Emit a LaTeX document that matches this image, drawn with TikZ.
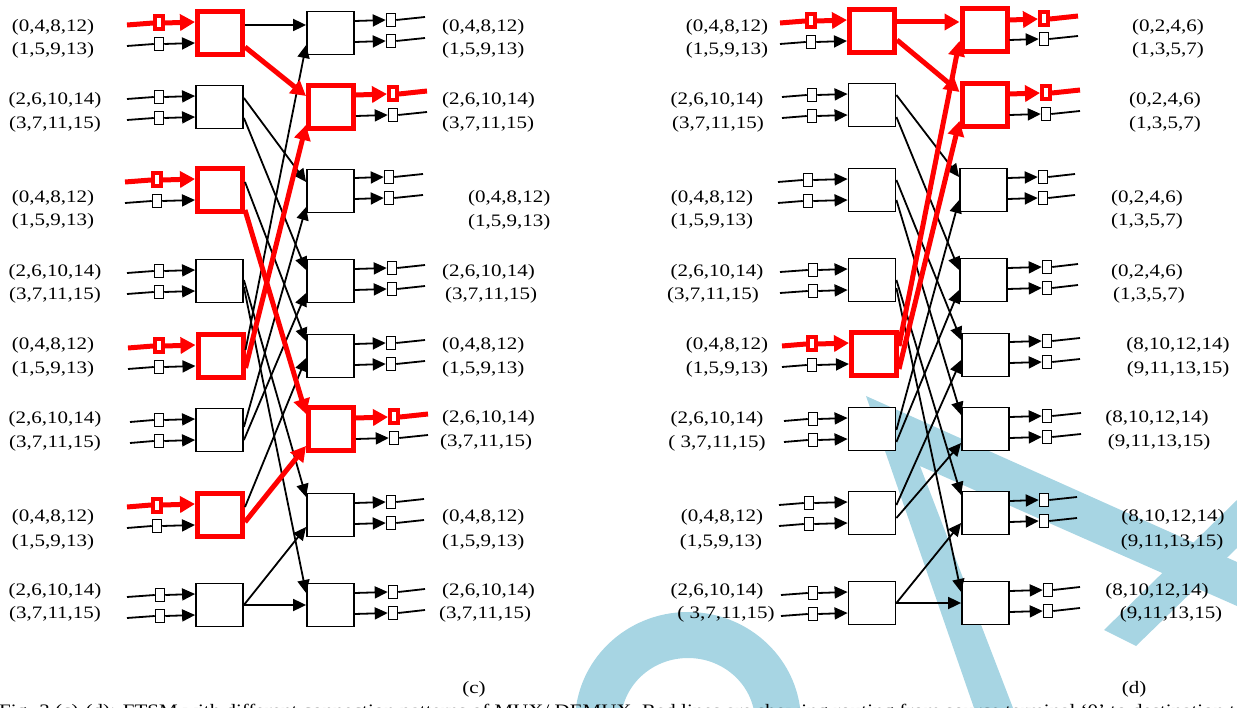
\documentclass[tikz,border=0pt]{standalone}
\usepackage{fontspec}
\setmainfont{Liberation Serif}[FakeStretch=1.2]
\usetikzlibrary{arrows.meta,calc}
\definecolor{wmblue}{RGB}{167,213,227}
\definecolor{pathred}{RGB}{255,0,0}
% black input: name, y, x-start, x-rect, box
\newcommand\inB[5]{%
  \coordinate (#1s) at (#3,#2+2);
  \node[sq] (#1q) at (#4,#2) {};
  \draw[wire] (#1s) -- (#1q.west);
  \draw[arr] (#1q.east) -- (#5.west |- 0,#2-1);}
\newcommand\inR[5]{%
  \coordinate (#1s) at (#3,#2+2);
  \node[rsq] (#1q) at (#4,#2) {};
  \draw[rwire] (#1s) -- (#1q.west);
  \draw[rarr] (#1q.east) -- (#5.west |- 0,#2-1);}
% output: name, y, x-rect, x-end, box
\newcommand\outB[5]{%
  \node[sq] (#1q) at (#3,#2-1) {};
  \draw[arr] (#5.east |- 0,#2) -- (#1q.west);
  \coordinate (#1e) at (#4,#2-4);
  \draw[wire] (#1q.east) -- (#1e);}
\newcommand\outR[5]{%
  \node[rsq] (#1q) at (#3,#2-1) {};
  \draw[rarr] (#5.east |- 0,#2) -- (#1q.west);
  \coordinate (#1e) at (#4,#2-4);
  \draw[rwire] (#1q.east) -- (#1e);}
\newcommand\lnk[5]{\draw[#1] ($(#2.east)+(0,#3)$) -- ($(#4.west)+(0,#5)$);}
\begin{document}
\begin{tikzpicture}[x=1pt,y=-1pt,
  box/.style={draw=black,fill=white,line width=1.8pt,minimum width=47pt,minimum height=43pt,inner sep=0pt},
  rbox/.style={draw=pathred,fill=white,line width=5pt,minimum width=45pt,minimum height=43pt,inner sep=0pt},
  sq/.style={draw=black,fill=white,line width=1.5pt,minimum width=9pt,minimum height=13pt,inner sep=0pt},
  rsq/.style={draw=pathred,fill=white,line width=4pt,minimum width=8pt,minimum height=13pt,inner sep=0pt},
  wire/.style={draw=black,line width=1.8pt},
  rwire/.style={draw=pathred,line width=5pt},
  arr/.style={draw=black,line width=1.8pt,-{Triangle[length=13pt,width=12pt]}},
  rarr/.style={draw=pathred,line width=5pt,-{Triangle[length=15pt,width=16pt]}},
  lab/.style={inner sep=0pt,text height=12.1pt,text depth=3.1pt,font=\fontsize{17.5pt}{20pt}\selectfont},
]
\useasboundingbox (0,0) rectangle (1237,708);
\clip (0,0) rectangle (1237,708);
% ---------- watermark ----------
\fill[wmblue] (866,396) -- (1237,562) -- (1237,606) -- (920,466) -- (1013,708) -- (974,708) -- cycle;
\fill[wmblue] (1237,500) -- (1237,548) -- (1136,646) -- (1104,630) -- cycle;
\draw[wmblue,line width=46pt] (598,722) arc[start angle=180,end angle=360,x radius=90,y radius=87];
% ---------- panel (c) boxes ----------
\node[rbox] (cA1) at (220,33) {};
\node[box]  (cA2) at (219.5,107) {};
\node[rbox] (cA3) at (220,190) {};
\node[box]  (cA4) at (219.5,281) {};
\node[rbox] (cA5) at (220.5,356) {};
\node[box]  (cA6) at (219.5,430) {};
\node[rbox] (cA7) at (220,515) {};
\node[box]  (cA8) at (219.5,605) {};
\node[box]  (cB1) at (330.5,33) {};
\node[rbox] (cB2) at (331,107) {};
\node[box]  (cB3) at (330.5,191) {};
\node[box]  (cB4) at (330.5,281) {};
\node[box]  (cB5) at (330.5,356) {};
\node[rbox] (cB6) at (331,429) {};
\node[box]  (cB7) at (330.5,515) {};
\node[box]  (cB8) at (330.5,605) {};
% ---------- panel (d) boxes ----------
\node[rbox] (dC1) at (872,31) {};
\node[box]  (dC2) at (872,105) {};
\node[box]  (dC3) at (872,190) {};
\node[box]  (dC4) at (872,280) {};
\node[rbox] (dC5) at (874,354) {};
\node[box]  (dC6) at (872,429) {};
\node[box]  (dC7) at (872,513) {};
\node[box]  (dC8) at (872,603) {};
\node[rbox] (dD1) at (984.5,30) {};
\node[rbox] (dD2) at (984.5,105) {};
\node[box]  (dD3) at (983.5,190) {};
\node[box]  (dD4) at (983.5,280) {};
\node[box]  (dD5) at (985.5,355) {};
\node[box]  (dD6) at (985.5,429) {};
\node[box]  (dD7) at (985.5,513) {};
\node[box]  (dD8) at (985.5,603) {};
% ---------- panel (c) links ----------
\lnk{arr}{cA1}{-8}{cB1}{-8}
\lnk{arr}{cA2}{-9}{cB3}{-9}
\lnk{arr}{cA2}{11}{cB4}{-11}
\lnk{arr}{cA3}{-8}{cB5}{-15}
\lnk{arr}{cA4}{-1}{cB7}{-18}
\lnk{arr}{cA4}{6}{cB8}{-12}
\lnk{arr}{cA5}{-6}{cB1}{12}
\lnk{arr}{cA6}{-3}{cB3}{16}
\lnk{arr}{cA6}{10}{cB4}{12}
\lnk{arr}{cA7}{-8}{cB5}{2}
\lnk{arr}{cA8}{0}{cB7}{12}
\lnk{arr}{cA8}{0}{cB8}{0}
\lnk{rarr}{cA1}{14}{cB2}{-11}
\lnk{rarr}{cA5}{12}{cB2}{18}
\lnk{rarr}{cA3}{20}{cB6}{-15}
\lnk{rarr}{cA7}{7}{cB6}{17}
% ---------- panel (d) links ----------
\lnk{arr}{dC2}{-10}{dD3}{-13}
\lnk{arr}{dC2}{12}{dD4}{-10}
\lnk{arr}{dC3}{-10}{dD5}{-15}
\lnk{arr}{dC3}{10}{dD6}{-14}
\lnk{arr}{dC4}{0}{dD7}{-18}
\lnk{arr}{dC4}{8}{dD8}{-11}
\lnk{arr}{dC6}{1}{dD3}{10}
\lnk{arr}{dC6}{13}{dD4}{10}
\lnk{arr}{dC7}{-8}{dD5}{5}
\lnk{arr}{dC7}{5}{dD6}{14}
\lnk{arr}{dC8}{0}{dD7}{10}
\lnk{arr}{dC8}{0}{dD8}{0}
\lnk{rarr}{dC1}{-9}{dD1}{-8}
\lnk{rarr}{dC1}{9}{dD2}{-13}
\lnk{rarr}{dC5}{-8}{dD1}{11}
\lnk{rarr}{dC5}{15}{dD2}{16}
% ---------- panel (c) inputs ----------
\inR{ci1a}{23}{127}{159}{cA1}  \inB{ci1b}{44}{127}{159}{cA1}
\inB{ci2a}{97}{127}{159}{cA2}  \inB{ci2b}{118}{127}{159}{cA2}
\inR{ci3a}{180}{125}{157}{cA3} \inB{ci3b}{201}{125}{157}{cA3}
\inB{ci4a}{271}{127}{159}{cA4} \inB{ci4b}{292}{127}{159}{cA4}
\inR{ci5a}{346}{128}{159}{cA5} \inB{ci5b}{367}{128}{159}{cA5}
\inB{ci6a}{420}{130}{159}{cA6} \inB{ci6b}{441}{130}{159}{cA6}
\inR{ci7a}{505}{127}{157}{cA7} \inB{ci7b}{526}{127}{157}{cA7}
\inB{ci8a}{595}{127}{160}{cA8} \inB{ci8b}{616}{127}{160}{cA8}
% ---------- panel (c) outputs ----------
\outB{co1a}{21}{391}{425}{cB1}  \outB{co1b}{42}{391}{425}{cB1}
\outR{co2a}{95}{393}{427}{cB2}  \outB{co2b}{116}{393}{427}{cB2}
\outB{co3a}{178}{389}{423}{cB3} \outB{co3b}{199}{389}{423}{cB3}
\outB{co4a}{269}{392}{425}{cB4} \outB{co4b}{290}{392}{425}{cB4}
\outB{co5a}{344}{391}{425}{cB5} \outB{co5b}{365}{391}{425}{cB5}
\outR{co6a}{418}{394}{428}{cB6} \outB{co6b}{439}{394}{428}{cB6}
\outB{co7a}{503}{391}{424}{cB7} \outB{co7b}{524}{391}{424}{cB7}
\outB{co8a}{593}{393}{425}{cB8} \outB{co8b}{614}{393}{425}{cB8}
% ---------- panel (d) inputs ----------
\inR{di1a}{21}{780}{811}{dC1}  \inB{di1b}{42}{780}{811}{dC1}
\inB{di2a}{95}{782}{812}{dC2}  \inB{di2b}{116}{782}{812}{dC2}
\inB{di3a}{180}{778}{808}{dC3} \inB{di3b}{201}{778}{808}{dC3}
\inB{di4a}{270}{780}{813}{dC4} \inB{di4b}{291}{780}{813}{dC4}
\inR{di5a}{344}{782}{812}{dC5} \inB{di5b}{365}{782}{812}{dC5}
\inB{di6a}{419}{784}{813}{dC6} \inB{di6b}{440}{784}{813}{dC6}
\inB{di7a}{503}{779}{809}{dC7} \inB{di7b}{524}{779}{809}{dC7}
\inB{di8a}{593}{781}{813}{dC8} \inB{di8b}{614}{781}{813}{dC8}
% ---------- panel (d) outputs ----------
\outR{do1a}{20}{1044}{1078}{dD1}  \outB{do1b}{40}{1044}{1078}{dD1}
\outR{do2a}{94}{1046}{1080}{dD2}  \outB{do2b}{115}{1046}{1080}{dD2}
\outB{do3a}{178}{1043}{1075}{dD3} \outB{do3b}{199}{1043}{1075}{dD3}
\outB{do4a}{268}{1047}{1078}{dD4} \outB{do4b}{289}{1047}{1078}{dD4}
\outB{do5a}{342}{1047}{1080}{dD5} \outB{do5b}{363}{1047}{1080}{dD5}
\outB{do6a}{417}{1047}{1081}{dD6} \outB{do6b}{438}{1047}{1081}{dD6}
\outB{do7a}{501}{1044}{1077}{dD7} \outB{do7b}{522}{1044}{1077}{dD7}
\outB{do8a}{591}{1048}{1080}{dD8} \outB{do8b}{612}{1048}{1080}{dD8}
% ---------- panel (c) labels ----------
\node[lab] (cl1a) at (53,27) {(0,4,8,12)};   \node[lab] (cl1b) at (53,50) {(1,5,9,13)};
\node[lab] (cl2a) at (55,100) {(2,6,10,14)}; \node[lab] (cl2b) at (55,124) {(3,7,11,15)};
\node[lab] (cl3a) at (53,198) {(0,4,8,12)};  \node[lab] (cl3b) at (53,221) {(1,5,9,13)};
\node[lab] (cl4a) at (55,272) {(2,6,10,14)}; \node[lab] (cl4b) at (55,295) {(3,7,11,15)};
\node[lab] (cl5a) at (53,345) {(0,4,8,12)};  \node[lab] (cl5b) at (53,369) {(1,5,9,13)};
\node[lab] (cl6a) at (55,419) {(2,6,10,14)}; \node[lab] (cl6b) at (55,443) {(3,7,11,15)};
\node[lab] (cl7a) at (53,517) {(0,4,8,12)};  \node[lab] (cl7b) at (53,542) {(1,5,9,13)};
\node[lab] (cl8a) at (55,591) {(2,6,10,14)}; \node[lab] (cl8b) at (55,614) {(3,7,11,15)};
\node[lab,anchor=west] (cr1a) at (442,27) {(0,4,8,12)};   \node[lab,anchor=west] (cr1b) at (442,50) {(1,5,9,13)};
\node[lab,anchor=west] (cr2a) at (442,100) {(2,6,10,14)}; \node[lab,anchor=west] (cr2b) at (442,124) {(3,7,11,15)};
\node[lab,anchor=west] (cr3a) at (468,198) {(0,4,8,12)};  \node[lab,anchor=west] (cr3b) at (468,222) {(1,5,9,13)};
\node[lab,anchor=west] (cr4a) at (442,272) {(2,6,10,14)}; \node[lab,anchor=west] (cr4b) at (445,295) {(3,7,11,15)};
\node[lab,anchor=west] (cr5a) at (442,345) {(0,4,8,12)};  \node[lab,anchor=west] (cr5b) at (442,369) {(1,5,9,13)};
\node[lab,anchor=west] (cr6a) at (442,418) {(2,6,10,14)}; \node[lab,anchor=west] (cr6b) at (440,442) {(3,7,11,15)};
\node[lab,anchor=west] (cr7a) at (442,517) {(0,4,8,12)};  \node[lab,anchor=west] (cr7b) at (442,542) {(1,5,9,13)};
\node[lab,anchor=west] (cr8a) at (442,591) {(2,6,10,14)}; \node[lab,anchor=west] (cr8b) at (439,614) {(3,7,11,15)};
% ---------- panel (d) labels ----------
\node[lab] (dl1a) at (727,27) {(0,4,8,12)};   \node[lab] (dl1b) at (727,50) {(1,5,9,13)};
\node[lab] (dl2a) at (717,100) {(2,6,10,14)}; \node[lab] (dl2b) at (718,124) {(3,7,11,15)};
\node[lab] (dl3a) at (712,198) {(0,4,8,12)};  \node[lab] (dl3b) at (712,221) {(1,5,9,13)};
\node[lab] (dl4a) at (717,272) {(2,6,10,14)}; \node[lab] (dl4b) at (713,295) {(3,7,11,15)};
\node[lab] (dl5a) at (727,345) {(0,4,8,12)};  \node[lab] (dl5b) at (727,369) {(1,5,9,13)};
\node[lab] (dl6a) at (717,419) {(2,6,10,14)}; \node[lab] (dl6b) at (717,443) {( 3,7,11,15)};
\node[lab] (dl7a) at (722,517) {(0,4,8,12)};  \node[lab] (dl7b) at (721,542) {(1,5,9,13)};
\node[lab] (dl8a) at (717,591) {(2,6,10,14)}; \node[lab] (dl8b) at (726,614) {( 3,7,11,15)};
\node[lab] (dr1a) at (1168,27) {(0,2,4,6)};     \node[lab] (dr1b) at (1168,50) {(1,3,5,7)};
\node[lab] (dr2a) at (1165,100) {(0,2,4,6)};    \node[lab] (dr2b) at (1165,124) {(1,3,5,7)};
\node[lab] (dr3a) at (1147,198) {(0,2,4,6)};    \node[lab] (dr3b) at (1147,221) {(1,3,5,7)};
\node[lab] (dr4a) at (1147,272) {(0,2,4,6)};    \node[lab] (dr4b) at (1149,295) {(1,3,5,7)};
\node[lab] (dr5a) at (1178,345) {(8,10,12,14)}; \node[lab] (dr5b) at (1178,369) {(9,11,13,15)};
\node[lab] (dr6a) at (1157,418) {(8,10,12,14)}; \node[lab] (dr6b) at (1159,442) {(9,11,13,15)};
\node[lab] (dr7a) at (1173,517) {(8,10,12,14)}; \node[lab] (dr7b) at (1172,542) {(9,11,13,15)};
\node[lab] (dr8a) at (1157,591) {(8,10,12,14)}; \node[lab] (dr8b) at (1171,614) {(9,11,13,15)};
% ---------- captions ----------
\node[lab] (subc) at (474,689) {(c)};
\node[lab] (subd) at (1134,689) {(d)};
\node[inner sep=0pt,anchor=base west,font=\fontsize{17.5pt}{20pt}\selectfont] (cap) at (-1,716)
  {Fig. 3 (c)-(d): FTSM with different connection patterns of MUX/ DEMUX. Red lines are showing routing from source terminal `0' to destination t};
\end{tikzpicture}
\end{document}
